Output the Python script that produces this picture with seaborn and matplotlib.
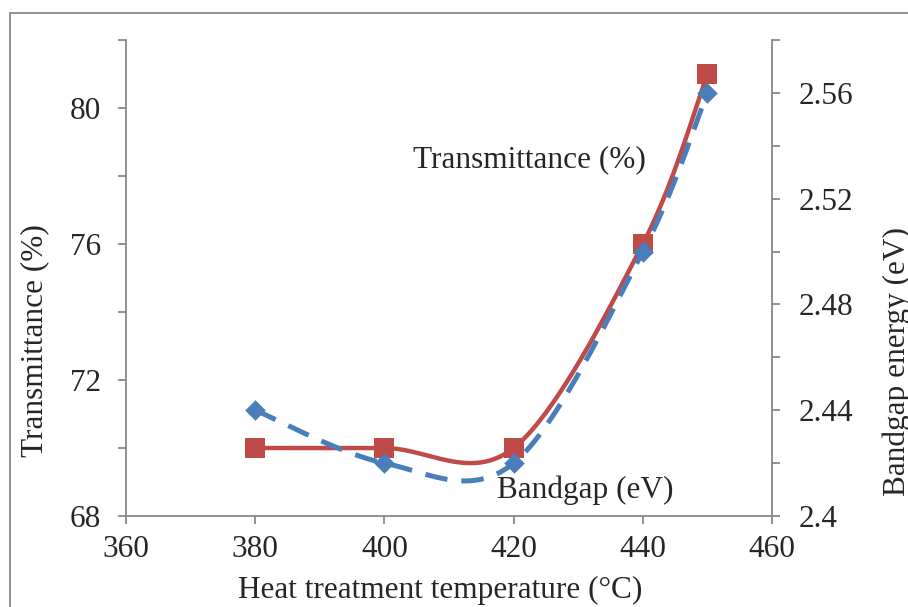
import matplotlib
matplotlib.use("Agg")
import matplotlib.pyplot as plt
import matplotlib.patches as patches
import numpy as np
import seaborn as sns

temps = [380, 400, 420, 440, 450]
transmittance = [70, 70, 70, 76, 81]
bandgap = [2.44, 2.42, 2.42, 2.50, 2.56]

x_ticks = [360, 380, 400, 420, 440, 460]
left_ticks = [68, 70, 72, 74, 76, 78, 80, 82]
left_labels = ['68', '', '72', '', '76', '', '80', '']
right_ticks = [2.40, 2.42, 2.44, 2.46, 2.48, 2.50, 2.52, 2.54, 2.56, 2.58]
right_labels = ['2.4', '', '2.44', '', '2.48', '', '2.52', '', '2.56', '']

red = '#BE4B48'
blue = '#4A7EBB'
grey = '#898989'


def smooth(xs, ys, n=40):
    # excel style smoothing (catmull-rom as cubic bezier)
    pts = np.column_stack([xs, ys]).astype(float)
    out = []
    for i in range(len(pts) - 1):
        p0 = pts[max(i - 1, 0)]
        p1 = pts[i]
        p2 = pts[i + 1]
        p3 = pts[min(i + 2, len(pts) - 1)]
        c1 = p1 + (p2 - p0) / 6
        c2 = p2 - (p3 - p1) / 6
        t = np.linspace(0, 1, n)[:, None]
        seg = (1 - t) ** 3 * p1 + 3 * (1 - t) ** 2 * t * c1 + 3 * (1 - t) * t ** 2 * c2 + t ** 3 * p2
        out.append(seg if i == 0 else seg[1:])
    out = np.vstack(out)
    return out[:, 0], out[:, 1]


sns.set_style('white')
plt.rcParams['font.family'] = ['Liberation Serif', 'DejaVu Serif']
fs = 22.5

fig = plt.figure(figsize=(9.08, 6.07), dpi=100)
ax = fig.add_axes([126 / 908, 1 - 516 / 607, 646 / 908, 476 / 607])
ax2 = ax.twinx()

sx, sy = smooth(temps, transmittance)
sns.lineplot(x=sx, y=sy, sort=False, estimator=None, color=red, linewidth=3.2, ax=ax)
sns.scatterplot(x=temps, y=transmittance, marker='s', s=200, color=red, linewidth=0, ax=ax, zorder=3)

bx, by = smooth(temps, bandgap)
sns.lineplot(x=bx, y=by, sort=False, estimator=None, color=blue, linewidth=3.6, ax=ax2,
             dashes=False)
ax2.lines[-1].set_dashes([4.5, 2.8])
sns.scatterplot(x=temps, y=bandgap, marker='D', s=110, color=blue, linewidth=0, ax=ax2, zorder=3)

ax.set_xlim(360, 460)
ax.set_ylim(68, 82)
ax2.set_ylim(2.40, 2.58)
ax.set_xticks(x_ticks)
ax.set_xticklabels([str(v) for v in x_ticks])
ax.set_yticks(left_ticks)
ax.set_yticklabels(left_labels)
ax2.set_yticks(right_ticks)
ax2.set_yticklabels(right_labels)

for a in (ax, ax2):
    a.set_xlabel('')
    a.set_ylabel('')
    a.spines['top'].set_visible(False)
    for s in a.spines.values():
        s.set_color(grey)
        s.set_linewidth(1.3)
    a.tick_params(axis='both', which='both', direction='out', length=6, width=1.3,
                  color=grey, labelsize=fs, pad=12)
ax.spines['right'].set_visible(False)
ax2.spines['left'].set_visible(False)
ax2.spines['bottom'].set_visible(False)
ax.tick_params(axis='y', left=True, right=False)
ax.tick_params(axis='x', bottom=True, pad=8)
ax2.tick_params(axis='y', right=True, left=False, pad=13)

ax.text(404.4, 78.47, 'Transmittance (%)', fontsize=fs, va='center', ha='left')
ax.text(417.4, 68.76, 'Bandgap (eV)', fontsize=fs, va='center', ha='left')

fig.text(35 / 908, 1 - 341 / 607, 'Transmittance (%)', fontsize=fs, rotation=90,
         ha='center', va='center')
fig.text(897 / 908, 1 - 361 / 607, 'Bandgap energy (eV)', fontsize=fs, rotation=90,
         ha='center', va='center')
fig.text(440 / 908, 1 - 590 / 607, 'Heat treatment temperature (°C)', fontsize=fs,
         ha='center', va='center')

fig.patches.append(patches.Rectangle((10 / 908, -0.1), 1.2, 1 - 13 / 607 + 0.1,
                                     transform=fig.transFigure, fill=False,
                                     edgecolor=grey, linewidth=1.3))

fig.savefig('out.png', dpi=100)
